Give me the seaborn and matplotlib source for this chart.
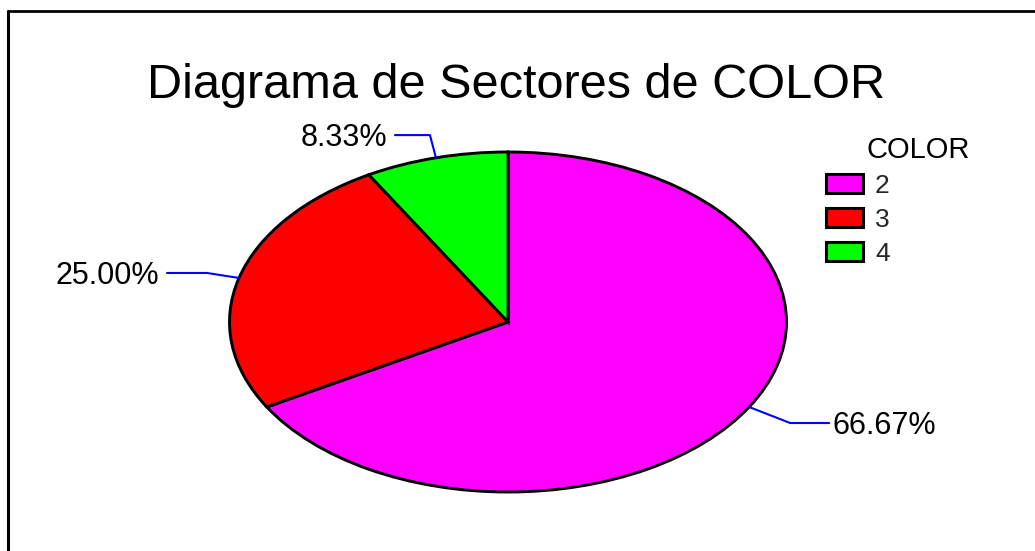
import matplotlib
matplotlib.use("Agg")
import matplotlib.pyplot as plt
from matplotlib.lines import Line2D
from matplotlib.patches import Patch
from matplotlib.transforms import IdentityTransform
import numpy as np
import seaborn as sns

# ---- data ----
categories = ["2", "3", "4"]
percentages = [66.67, 25.00, 8.33]
pct_labels = ["66.67%", "25.00%", "8.33%"]
slice_colors = ["#FF00FF", "#FF0000", "#00FF00"]
title_text = "Diagrama de Sectores de COLOR"
legend_title = "COLOR"

sns.set_theme(style="white")
plt.rcParams["font.family"] = ["Liberation Sans", "DejaVu Sans"]

W, H = 1035, 551
fig = plt.figure(figsize=(W / 100, H / 100), dpi=100)
fig.patch.set_facecolor("white")

# pie axes (elliptical pie)
cx, cy, rx, ry = 508, 322, 278.5, 170
ax = fig.add_axes([(cx - rx) / W, (H - cy - ry) / H, 2 * rx / W, 2 * ry / H])
wedges, _ = ax.pie(percentages, colors=slice_colors, startangle=90,
                   counterclock=False,
                   wedgeprops=dict(edgecolor="black", linewidth=2.1))
ax.set_aspect("auto")
ax.set_xlim(-1, 1)
ax.set_ylim(-1, 1)
ax.axis("off")

ident = IdentityTransform()

# frame (only left and top visible)
fig.add_artist(Line2D([8, 8], [-20, H - 11], color="black", lw=2.2, transform=ident))
fig.add_artist(Line2D([8, W + 20], [H - 11, H - 11], color="black", lw=2.0, transform=ident))

# title
fig.text(516, H - 98, title_text, transform=ident, ha="center", va="baseline",
         fontsize=35, color="black")

# leader lines + percentage labels
# elbow offsets in pixels (dx, dy with y up), horizontal length
leader = [(41, -16, 39), (-32, 5, -40), (-6, 22.7, -35)]
lab_fs = 22
cap = 0.716 * lab_fs * 100 / 72
for w, lab, (dx, dy, hl) in zip(wedges, pct_labels, leader):
    mid = np.deg2rad((w.theta1 + w.theta2) / 2)
    sx, sy = ax.transData.transform((np.cos(mid), np.sin(mid)))
    ex, ey = sx + dx, sy + dy
    fx = ex + hl
    fig.add_artist(Line2D([sx, ex, fx], [sy, ey, ey], color="#0000FF", lw=1.5,
                          transform=ident))
    if hl > 0:
        fig.text(fx + 3, ey - cap / 2, lab, transform=ident, ha="left", va="baseline",
                 fontsize=lab_fs, color="black")
    else:
        fig.text(fx - 8, ey - cap / 2, lab, transform=ident, ha="right", va="baseline",
                 fontsize=lab_fs, color="black")

# legend
handles = [Patch(facecolor=c, edgecolor="black", linewidth=2.2) for c in slice_colors]
fs = 19
fpx = fs * 100 / 72
fig.legend(handles, categories, loc="upper left",
           bbox_to_anchor=(826 / W, 1 - 174 / H), bbox_transform=fig.transFigure,
           frameon=False, fontsize=fs, borderpad=0, borderaxespad=0,
           handlelength=37 / fpx, handleheight=19 / fpx,
           handletextpad=12 / fpx, labelspacing=0.37)
fig.text(918, H - 158, legend_title, transform=ident, ha="center", va="baseline",
         fontsize=21, color="black")

fig.savefig("out.png", dpi=100, facecolor="white")
